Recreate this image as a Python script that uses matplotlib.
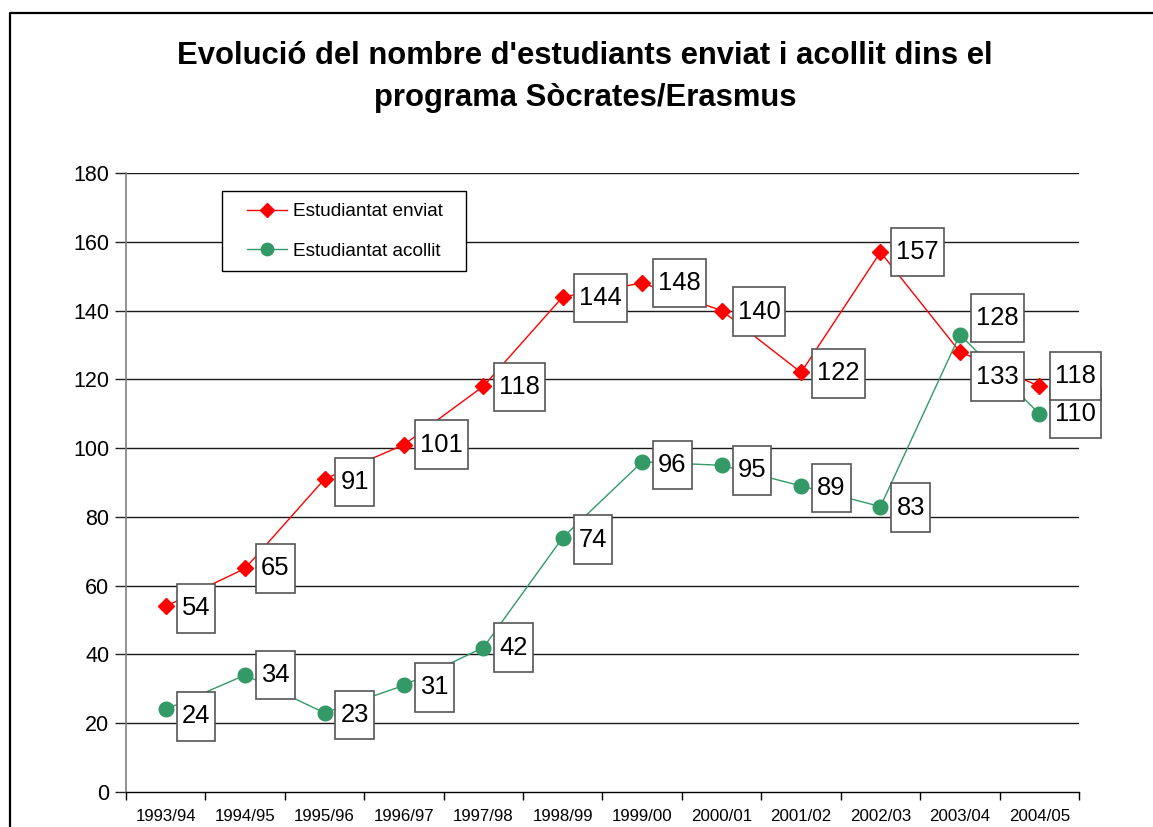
import matplotlib
matplotlib.use("Agg")
import matplotlib.pyplot as plt
from matplotlib.path import Path
from matplotlib.lines import Line2D
from matplotlib.patches import Rectangle
import numpy as np

plt.rcParams['font.family'] = ['Liberation Sans', 'DejaVu Sans']

# ---- data ----
years = ["1993/94", "1994/95", "1995/96", "1996/97", "1997/98", "1998/99",
         "1999/00", "2000/01", "2001/02", "2002/03", "2003/04", "2004/05"]
enviat = [54, 65, 91, 101, 118, 144, 148, 140, 122, 157, 128, 118]
acollit = [24, 34, 23, 31, 42, 74, 96, 95, 89, 83, 133, 110]
yticks = [0, 20, 40, 60, 80, 100, 120, 140, 160, 180]
title = "Evolució del nombre d'estudiants enviat i acollit dins el\nprograma Sòcrates/Erasmus"
label_enviat = "Estudiantat enviat"
label_acollit = "Estudiantat acollit"

# ---- style ----
RED = "#FF0000"
GREEN = "#339966"
W, H, DPI = 1153, 827, 100
AX_L, AX_R, AX_T, AX_B = 126, 1079, 173, 792

fig = plt.figure(figsize=(W / DPI, H / DPI), dpi=DPI)
ax = fig.add_axes([AX_L / W, 1 - AX_B / H, (AX_R - AX_L) / W, (AX_B - AX_T) / H])


def ax_frac(px, py):
    return (px - AX_L) / (AX_R - AX_L), (AX_B - py) / (AX_B - AX_T)


x = np.arange(len(years))
ax.plot(x, enviat, color=RED, lw=1.0, marker="D", ms=8.5, mec=RED, mfc=RED,
        zorder=4, label=label_enviat)
ax.plot(x, acollit, color=GREEN, lw=1.0, marker="o", ms=10.5, mec=GREEN, mfc=GREEN,
        zorder=4, label=label_acollit)

ax.set_xlim(-0.5, len(years) - 0.5)
ax.set_ylim(0, 180)
ax.set_yticks(yticks)
ax.set_yticklabels([str(v) for v in yticks], fontsize=15.5)
ax.set_xticks(x)
ax.set_xticklabels(years, fontsize=12.2)
ax.set_xticks(np.arange(-0.5, len(years)), minor=True)
ax.tick_params(axis="x", which="major", length=0, pad=12)
ax.tick_params(axis="x", which="minor", length=6, width=1, color="#000000", direction="out")
ax.tick_params(axis="y", length=8, width=1, color="#222222", pad=4)

for v in yticks[1:]:
    ax.axhline(v, color="#1a1a1a", lw=1.0, zorder=1)

for s in ["top", "right"]:
    ax.spines[s].set_visible(False)
ax.spines["left"].set_color("#808080")
ax.spines["left"].set_linewidth(1.2)
ax.spines["bottom"].set_color("#000000")
ax.spines["bottom"].set_linewidth(1.0)


def labelbox(x0, y0, width, height, mutation_size):
    px = 0.20 * mutation_size
    py = 0.48 * mutation_size
    verts = [(x0 - px, y0 - py), (x0 + width + px, y0 - py),
             (x0 + width + px, y0 + height + py), (x0 - px, y0 + height + py),
             (x0 - px, y0 - py)]
    return Path(verts, closed=True)


# vertical nudges (pixels, up positive) for labels moved in the original
dy_enviat = [-2, 0, -3, 0, -1, -1, 0, -1, -1, 0, 34, 10]
dy_acollit = [-7, 0, -2, -2, 0, -2, -3, -5, -2, -1, -42, 0]


def add_labels(vals, dys, z):
    for i, (v, d) in enumerate(zip(vals, dys)):
        ax.annotate(str(v), (i, v), xytext=(16, d), textcoords="offset pixels",
                    ha="left", va="center", fontsize=18.4, color="black",
                    zorder=z, annotation_clip=False,
                    bbox=dict(boxstyle=labelbox, fc="white", ec="#555555", lw=1.2))


add_labels(acollit, dy_acollit, 5)
add_labels(enviat, dy_enviat, 6)

# legend frame drawn manually, legend entries on top
x0, y0 = ax_frac(222, 271)
x1, y1 = ax_frac(466, 191)
ax.add_patch(Rectangle((x0, y0), x1 - x0, y1 - y0, transform=ax.transAxes,
                       fc="white", ec="black", lw=1.0, zorder=7))
leg = ax.legend(loc="upper left", bbox_to_anchor=ax_frac(247, 203),
                fontsize=13.7, frameon=False, markerscale=0.85,
                borderpad=0, labelspacing=1.15, handlelength=2.1, handletextpad=0.3,
                borderaxespad=0)
leg.set_zorder(8)

fig.text(585 / W, 1 - 77 / H, title, ha="center", va="center", fontsize=22.3,
         fontweight="bold", linespacing=1.55)

# outer frame
fig.add_artist(Line2D([9.5 / W, 9.5 / W, 1], [0, 1 - 13 / H, 1 - 13 / H],
                      transform=fig.transFigure, color="black", lw=1.6))

fig.savefig("out.png", dpi=DPI)
